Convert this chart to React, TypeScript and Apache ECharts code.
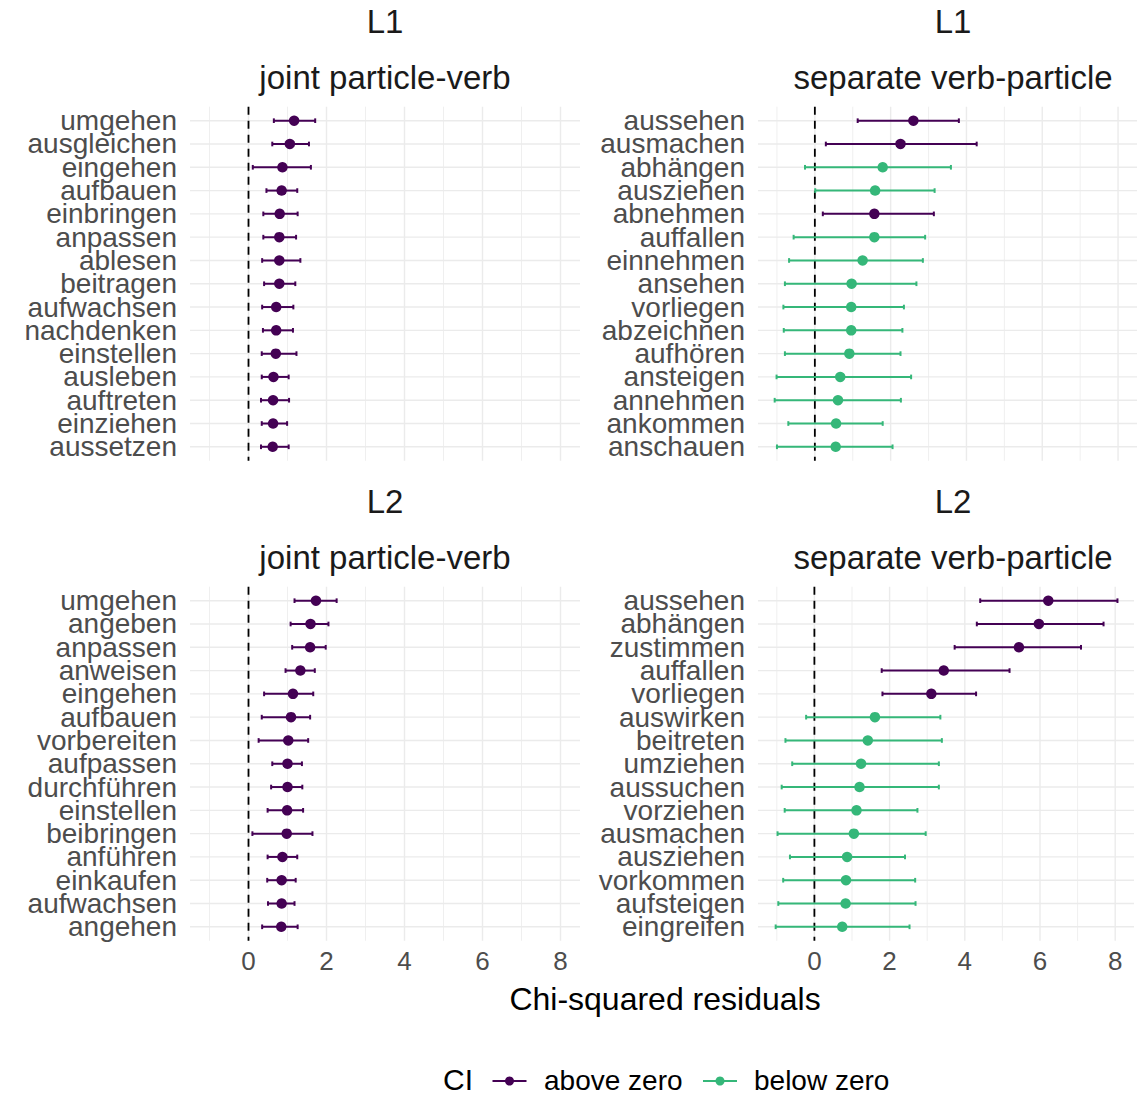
import React, { useEffect, useRef } from 'react';
import * as echarts from 'echarts';

const PURPLE = '#440154';
const GREEN = '#35B779';
const FONT = '"Liberation Sans", Arial, Helvetica, sans-serif';

// ---- L1 · joint particle-verb ----
const l1JointWords = ['umgehen', 'ausgleichen', 'eingehen', 'aufbauen', 'einbringen', 'anpassen', 'ablesen', 'beitragen', 'aufwachsen', 'nachdenken', 'einstellen', 'ausleben', 'auftreten', 'einziehen', 'aussetzen'];
const l1JointEst = [1.17, 1.06, 0.87, 0.85, 0.80, 0.79, 0.79, 0.79, 0.71, 0.71, 0.70, 0.64, 0.63, 0.63, 0.62];
const l1JointLow = [0.65, 0.61, 0.11, 0.46, 0.38, 0.38, 0.35, 0.40, 0.35, 0.37, 0.34, 0.34, 0.32, 0.34, 0.32];
const l1JointHigh = [1.71, 1.55, 1.60, 1.25, 1.26, 1.22, 1.33, 1.20, 1.15, 1.14, 1.23, 1.03, 1.04, 0.99, 1.03];
const l1JointAbove = [1, 1, 1, 1, 1, 1, 1, 1, 1, 1, 1, 1, 1, 1, 1];

// ---- L1 · separate verb-particle ----
const l1SepWords = ['aussehen', 'ausmachen', 'abhängen', 'ausziehen', 'abnehmen', 'auffallen', 'einnehmen', 'ansehen', 'vorliegen', 'abzeichnen', 'aufhören', 'ansteigen', 'annehmen', 'ankommen', 'anschauen'];
const l1SepEst = [2.60, 2.26, 1.79, 1.59, 1.57, 1.57, 1.26, 0.97, 0.96, 0.96, 0.91, 0.67, 0.61, 0.56, 0.55];
const l1SepLow = [1.13, 0.29, -0.26, 0.01, 0.21, -0.56, -0.68, -0.79, -0.83, -0.82, -0.79, -1.01, -1.06, -0.70, -1.00];
const l1SepHigh = [3.80, 4.27, 3.59, 3.16, 3.14, 2.91, 2.85, 2.68, 2.35, 2.31, 2.26, 2.54, 2.27, 1.79, 2.05];
const l1SepAbove = [1, 1, 0, 0, 1, 0, 0, 0, 0, 0, 0, 0, 0, 0, 0];

// ---- L2 · joint particle-verb ----
const l2JointWords = ['umgehen', 'angeben', 'anpassen', 'anweisen', 'eingehen', 'aufbauen', 'vorbereiten', 'aufpassen', 'durchführen', 'einstellen', 'beibringen', 'anführen', 'einkaufen', 'aufwachsen', 'angehen'];
const l2JointEst = [1.73, 1.59, 1.58, 1.33, 1.14, 1.09, 1.02, 1.00, 1.00, 0.99, 0.98, 0.87, 0.85, 0.85, 0.84];
const l2JointLow = [1.18, 1.08, 1.12, 0.95, 0.40, 0.34, 0.26, 0.61, 0.58, 0.49, 0.10, 0.49, 0.48, 0.50, 0.35];
const l2JointHigh = [2.26, 2.05, 1.98, 1.70, 1.66, 1.58, 1.53, 1.37, 1.38, 1.40, 1.64, 1.25, 1.21, 1.18, 1.26];
const l2JointAbove = [1, 1, 1, 1, 1, 1, 1, 1, 1, 1, 1, 1, 1, 1, 1];

// ---- L2 · separate verb-particle ----
const l2SepWords = ['aussehen', 'abhängen', 'zustimmen', 'auffallen', 'vorliegen', 'auswirken', 'beitreten', 'umziehen', 'aussuchen', 'vorziehen', 'ausmachen', 'ausziehen', 'vorkommen', 'aufsteigen', 'eingreifen'];
const l2SepEst = [6.22, 5.97, 5.44, 3.44, 3.11, 1.61, 1.42, 1.24, 1.20, 1.12, 1.05, 0.87, 0.84, 0.83, 0.74];
const l2SepLow = [4.41, 4.32, 3.73, 1.79, 1.81, -0.22, -0.77, -0.59, -0.87, -0.79, -0.98, -0.65, -0.83, -0.96, -1.03];
const l2SepHigh = [8.06, 7.69, 7.09, 5.19, 4.30, 3.35, 3.39, 3.31, 3.31, 2.74, 2.96, 2.41, 2.68, 2.69, 2.53];
const l2SepAbove = [1, 1, 1, 1, 1, 0, 0, 0, 0, 0, 0, 0, 0, 0, 0];

const xMajorTicks = [0, 2, 4, 6, 8];
const xMinorTicks = [-1, 1, 3, 5, 7];
const xMin = -1.5;
const xMax = 8.5;

const legendLabels = ['above zero', 'below zero'];
const legendTitle = 'CI';
const xAxisTitle = 'Chi-squared residuals';

const panels = [
  { lang: 'L1', type: 'joint particle-verb', words: l1JointWords, est: l1JointEst, low: l1JointLow, high: l1JointHigh, above: l1JointAbove, left: 190, top: 109.05, bottom: false },
  { lang: 'L1', type: 'separate verb-particle', words: l1SepWords, est: l1SepEst, low: l1SepLow, high: l1SepHigh, above: l1SepAbove, left: 758, top: 109.05, bottom: false },
  { lang: 'L2', type: 'joint particle-verb', words: l2JointWords, est: l2JointEst, low: l2JointLow, high: l2JointHigh, above: l2JointAbove, left: 190, top: 589.05, bottom: true },
  { lang: 'L2', type: 'separate verb-particle', words: l2SepWords, est: l2SepEst, low: l2SepLow, high: l2SepHigh, above: l2SepAbove, left: 758, top: 589.05, bottom: true },
];

const PANEL_W = 390;
const PANEL_H = 349.4;

function textStyle(text: string, fontSize: number, fill: string, align: string) {
  return {
    text, fontSize, fontFamily: FONT, fill, lineHeight: fontSize,
    align, verticalAlign: 'middle', textAlign: align, textVerticalAlign: 'middle',
  };
}

function buildOption() {
  const grid: any[] = [];
  const xAxis: any[] = [];
  const yAxis: any[] = [];
  const series: any[] = [];
  const graphic: any[] = [];

  panels.forEach((p, i) => {
    const n = p.words.length;
    grid.push({ left: p.left, top: p.top, width: PANEL_W, height: PANEL_H, containLabel: false });
    xAxis.push({
      type: 'value', gridIndex: i, min: xMin, max: xMax, interval: 0.5,
      splitLine: { show: false }, axisLine: { show: false }, axisTick: { show: false },
      axisLabel: {
        show: p.bottom, fontSize: 26, lineHeight: 24, color: '#4D4D4D', margin: 11, fontFamily: FONT,
        formatter: (v: number) => (xMajorTicks.includes(v) ? String(v) : ''),
      },
    });
    yAxis.push({
      type: 'category', gridIndex: i, data: p.words, inverse: true,
      axisLine: { show: false }, axisTick: { show: false }, splitLine: { show: false },
      axisLabel: { interval: 0, fontSize: 28, lineHeight: 22, color: '#4D4D4D', margin: 13, fontFamily: FONT },
    });

    // vertical grid lines
    const vData = [
      ...xMinorTicks.map((v) => [v, 0, 0]),
      ...xMajorTicks.map((v) => [v, 0, 1]),
    ];
    series.push({
      type: 'custom', xAxisIndex: i, yAxisIndex: i, silent: true, z: 0,
      data: vData, encode: { x: 0, y: 1 },
      renderItem: (params: any, api: any) => {
        const cs = params.coordSys;
        const x = api.coord([api.value(0), 0])[0];
        const pad = (cs.height / n) * 0.1;
        const major = api.value(2) === 1;
        return {
          type: 'line',
          shape: { x1: x, y1: cs.y - pad, x2: x, y2: cs.y + cs.height + pad },
          style: { stroke: '#EBEBEB', lineWidth: major ? 1.4 : 0.8 },
        };
      },
    });
    // horizontal grid lines
    series.push({
      type: 'custom', xAxisIndex: i, yAxisIndex: i, silent: true, z: 0,
      data: p.words.map((_, k) => [0, k]), encode: { x: 0, y: 1 },
      renderItem: (params: any, api: any) => {
        const cs = params.coordSys;
        const y = api.coord([0, api.value(1)])[1];
        return {
          type: 'line',
          shape: { x1: cs.x, y1: y, x2: cs.x + cs.width, y2: y },
          style: { stroke: '#EBEBEB', lineWidth: 1.4 },
        };
      },
    });
    // dashed zero line
    series.push({
      type: 'custom', xAxisIndex: i, yAxisIndex: i, silent: true, z: 1,
      data: [[0, 0]], encode: { x: 0, y: 1 },
      renderItem: (params: any, api: any) => {
        const cs = params.coordSys;
        const x = api.coord([api.value(0), 0])[0];
        const pad = (cs.height / n) * 0.1;
        return {
          type: 'line',
          shape: { x1: x, y1: cs.y - pad, x2: x, y2: cs.y + cs.height + pad },
          style: { stroke: '#000000', lineWidth: 1.8, lineDash: [8, 6] },
        };
      },
    });
    // error bars
    series.push({
      type: 'custom', xAxisIndex: i, yAxisIndex: i, silent: true, z: 2,
      data: p.words.map((_, k) => [p.low[k], p.high[k], k, p.above[k]]),
      encode: { x: [0, 1], y: 2 },
      renderItem: (params: any, api: any) => {
        const cs = params.coordSys;
        const lo = api.coord([api.value(0), api.value(2)]);
        const hi = api.coord([api.value(1), api.value(2)]);
        const h = (cs.height / n) * 0.1;
        const color = api.value(3) === 1 ? PURPLE : GREEN;
        const st = { stroke: color, lineWidth: 2 };
        return {
          type: 'group',
          children: [
            { type: 'line', shape: { x1: lo[0], y1: lo[1], x2: hi[0], y2: hi[1] }, style: st },
            { type: 'line', shape: { x1: lo[0], y1: lo[1] - h, x2: lo[0], y2: lo[1] + h }, style: st },
            { type: 'line', shape: { x1: hi[0], y1: hi[1] - h, x2: hi[0], y2: hi[1] + h }, style: st },
          ],
        };
      },
    });
    // points
    series.push({
      type: 'scatter', xAxisIndex: i, yAxisIndex: i, z: 3, symbolSize: 10.5, silent: true,
      data: p.words.map((_, k) => ({ value: [p.est[k], k], itemStyle: { color: p.above[k] === 1 ? PURPLE : GREEN, opacity: 1 } })),
    });

    const cx = p.left + PANEL_W / 2;
    const baseY = p.top - 88;
    graphic.push({ type: 'text', x: cx, y: baseY, silent: true, style: textStyle(p.lang, 33, '#1A1A1A', 'center') });
    graphic.push({ type: 'text', x: cx, y: baseY + 56.5, silent: true, style: textStyle(p.type, 33, '#1A1A1A', 'center') });
  });

  // x-axis title
  graphic.push({ type: 'text', x: 665, y: 999, silent: true, style: textStyle(xAxisTitle, 32, '#000000', 'center') });

  // legend
  const ly = 1081;
  graphic.push({ type: 'text', x: 443, y: 1079, silent: true, style: textStyle(legendTitle, 30, '#000000', 'left') });
  const keys = [
    { x: 492.5, color: PURPLE, tx: 544, label: legendLabels[0] },
    { x: 703, color: GREEN, tx: 754, label: legendLabels[1] },
  ];
  keys.forEach((k) => {
    graphic.push({ type: 'line', silent: true, shape: { x1: k.x, y1: ly, x2: k.x + 34, y2: ly }, style: { stroke: k.color, lineWidth: 2 } });
    graphic.push({ type: 'circle', silent: true, shape: { cx: k.x + 17, cy: ly, r: 4.5 }, style: { fill: k.color } });
    graphic.push({ type: 'text', x: k.tx, y: 1080, silent: true, style: textStyle(k.label, 28, '#000000', 'left') });
  });

  return {
    animation: false,
    backgroundColor: '#FFFFFF',
    textStyle: { fontFamily: FONT },
    grid, xAxis, yAxis, series, graphic,
  };
}

export default function App() {
  const ref = useRef<HTMLDivElement | null>(null);
  useEffect(() => {
    if (!ref.current) return;
    const chart = echarts.init(ref.current, undefined, { renderer: 'svg' });
    chart.setOption(buildOption() as any);
    return () => chart.dispose();
  }, []);
  return (
    <div
      ref={ref}
      style={{ position: 'absolute', left: 0, top: 0, width: 1137, height: 1097, overflow: 'hidden', background: '#fff' }}
    />
  );
}
